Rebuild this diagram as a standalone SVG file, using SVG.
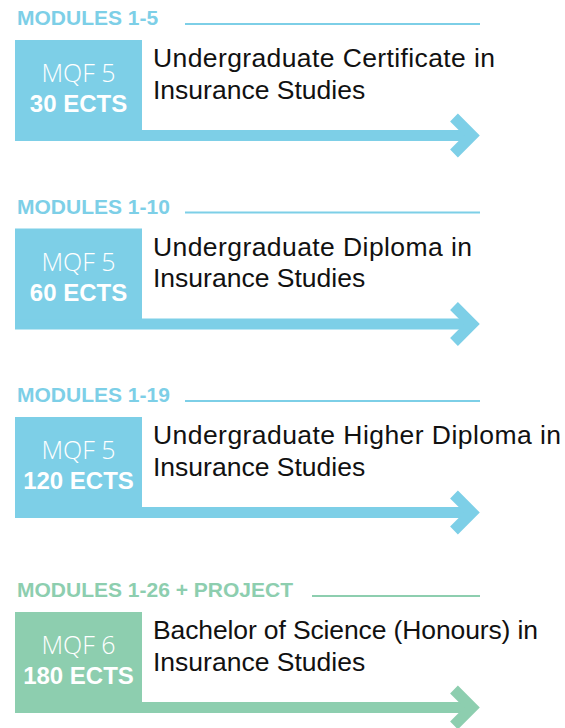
<svg xmlns="http://www.w3.org/2000/svg" width="565" height="728" viewBox="0 0 565 728">
<style>
.hdr{font-family:"Liberation Sans",Arial,sans-serif;font-weight:bold;font-size:21px}
.mqf{font-family:"Open Sans","Liberation Sans",sans-serif;font-weight:300;font-size:25px;fill:#fff;text-anchor:middle}
.ects{font-family:"Liberation Sans",Arial,sans-serif;font-weight:bold;font-size:24px;fill:#fff;text-anchor:middle}
.main{font-family:"Liberation Sans",Arial,sans-serif;font-size:26.5px;fill:#111}
.blue{fill:#7DCFE7}
.green{fill:#8DCEAF}
.lblue{stroke:#7DCFE7}
.lgreen{stroke:#8DCEAF}
.rule{stroke-width:2;fill:none}
.chev{fill:none;stroke-width:11;stroke-linejoin:miter;stroke-linecap:butt}
</style>
<rect width="565" height="728" fill="#fff"/>
<g id="connectors">
  <g>
    <rect class="blue" x="15" y="130" width="458" height="11"/>
    <polyline class="chev lblue" points="454,117.5 472,135.5 454,153.5"/>
  </g>
  <g transform="translate(0,188.5)">
    <rect class="blue" x="15" y="130" width="458" height="11"/>
    <polyline class="chev lblue" points="454,117.5 472,135.5 454,153.5"/>
  </g>
  <g transform="translate(0,377)">
    <rect class="blue" x="15" y="130" width="458" height="11"/>
    <polyline class="chev lblue" points="454,117.5 472,135.5 454,153.5"/>
  </g>
  <g transform="translate(0,572)">
    <rect class="green" x="15" y="130" width="458" height="11"/>
    <polyline class="chev lgreen" points="454,117.5 472,135.5 454,153.5"/>
  </g>
</g>
<g id="node1">
  <text class="hdr blue" x="17" y="25">MODULES 1-5</text>
  <line class="rule lblue" x1="185" y1="24" x2="480" y2="24"/>
  <rect class="blue" x="15" y="40" width="127" height="91"/>
  <text class="mqf" x="78.5" y="82">MQF 5</text>
  <text class="ects" x="78.5" y="112">30 ECTS</text>
  <text class="main" x="153" y="67" textLength="342" lengthAdjust="spacing">Undergraduate Certificate in</text>
  <text class="main" x="153" y="98.5">Insurance Studies</text>
</g>
<g id="node2" transform="translate(0,188.5)">
  <text class="hdr blue" x="17" y="25">MODULES 1-10</text>
  <line class="rule lblue" x1="185" y1="24" x2="480" y2="24"/>
  <rect class="blue" x="15" y="40" width="127" height="91"/>
  <text class="mqf" x="78.5" y="82">MQF 5</text>
  <text class="ects" x="78.5" y="112">60 ECTS</text>
  <text class="main" x="153" y="67" textLength="319" lengthAdjust="spacing">Undergraduate Diploma in</text>
  <text class="main" x="153" y="98.5">Insurance Studies</text>
</g>
<g id="node3" transform="translate(0,377)">
  <text class="hdr blue" x="17" y="25">MODULES 1-19</text>
  <line class="rule lblue" x1="185" y1="24" x2="480" y2="24"/>
  <rect class="blue" x="15" y="40" width="127" height="91"/>
  <text class="mqf" x="78.5" y="82">MQF 5</text>
  <text class="ects" x="78.5" y="112">120 ECTS</text>
  <text class="main" x="153" y="67" textLength="408" lengthAdjust="spacing">Undergraduate Higher Diploma in</text>
  <text class="main" x="153" y="98.5">Insurance Studies</text>
</g>
<g id="node4" transform="translate(0,572)">
  <text class="hdr green" x="17" y="25">MODULES 1-26 + PROJECT</text>
  <line class="rule lgreen" x1="312" y1="24" x2="480" y2="24"/>
  <rect class="green" x="15" y="40" width="127" height="91"/>
  <text class="mqf" x="78.5" y="82">MQF 6</text>
  <text class="ects" x="78.5" y="112">180 ECTS</text>
  <text class="main" x="153" y="67" textLength="385" lengthAdjust="spacing">Bachelor of Science (Honours) in</text>
  <text class="main" x="153" y="98.5">Insurance Studies</text>
</g>
</svg>
